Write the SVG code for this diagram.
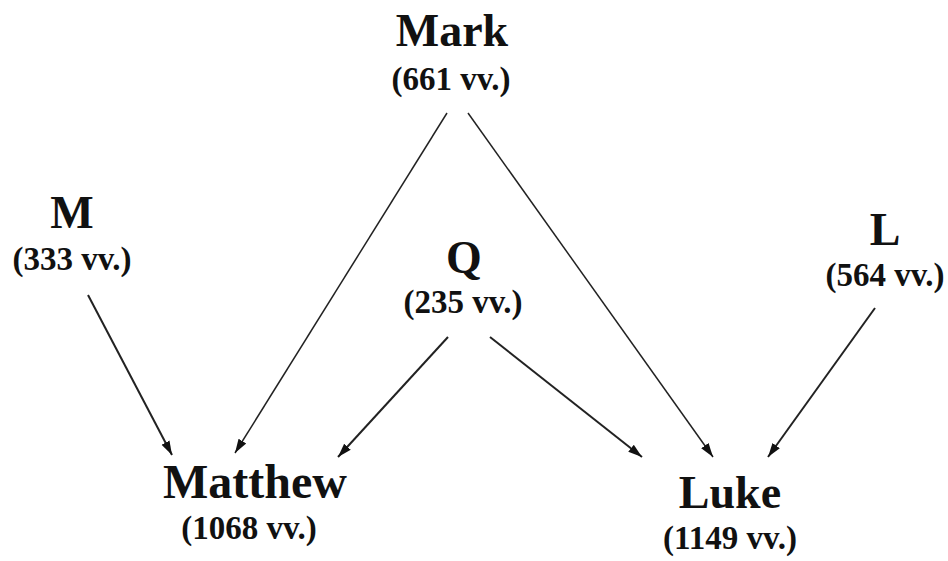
<svg xmlns="http://www.w3.org/2000/svg" width="948" height="561" viewBox="0 0 948 561">
<style>
.t{font-family:"Liberation Serif","Times New Roman",serif;font-weight:bold;fill:#111;text-anchor:middle}
.big{font-size:46px}
.sm{font-size:33px}
.c{stroke:#222;fill:none;stroke-width:2}
.thin{stroke-width:1.5}
</style>
<defs>
<marker id="ah" markerUnits="userSpaceOnUse" markerWidth="15" markerHeight="11" viewBox="0 0 15 11" refX="14" refY="5.5" orient="auto">
<path d="M0,1 L14,5.5 L0,10 Z" fill="#111"/>
</marker>
</defs>
<rect width="948" height="561" fill="#fff"/>
<g id="connectors">
<line class="c" x1="88" y1="295" x2="172" y2="455" marker-end="url(#ah)"/>
<line class="c thin" x1="447" y1="113" x2="235" y2="453" marker-end="url(#ah)"/>
<line class="c" x1="448" y1="337" x2="338" y2="457" marker-end="url(#ah)"/>
<line class="c thin" x1="468" y1="113" x2="713" y2="457" marker-end="url(#ah)"/>
<line class="c" x1="490" y1="337" x2="642" y2="457" marker-end="url(#ah)"/>
<line class="c" x1="875" y1="308" x2="768" y2="457" marker-end="url(#ah)"/>
</g>
<g id="mark">
<text class="t big" x="452" y="46">Mark</text>
<text class="t sm" x="451" y="90">(661 vv.)</text>
</g>
<g id="m">
<text class="t big" x="72" y="228">M</text>
<text class="t sm" x="72" y="270">(333 vv.)</text>
</g>
<g id="q">
<text class="t big" x="464" y="273">Q</text>
<text class="t sm" x="463" y="313">(235 vv.)</text>
</g>
<g id="l">
<text class="t big" x="885" y="245">L</text>
<text class="t sm" x="885" y="286">(564 vv.)</text>
</g>
<g id="matthew">
<text class="t big" x="255" y="498" style="font-size:48px">Matthew</text>
<text class="t sm" x="249" y="539">(1068 vv.)</text>
</g>
<g id="luke">
<text class="t big" x="730" y="508">Luke</text>
<text class="t sm" x="730" y="549">(1149 vv.)</text>
</g>
</svg>
